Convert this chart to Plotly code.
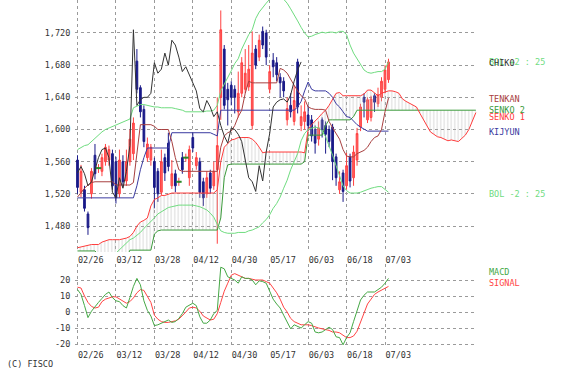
import plotly.graph_objects as go

# ---------------- data ----------------
tick_labels = ["02/26", "03/12", "03/28", "04/12", "04/30", "05/17", "06/03", "06/18", "07/03"]
tick_pos = [0, 11, 22, 33, 44, 55, 66, 77, 88]

open_ = [1562, 1522, 1525, 1495, 1520, 1568, 1552, 1548, 1560, 1562,
         1570, 1560, 1520, 1560, 1536, 1560, 1570, 1685, 1652, 1625,
         1565, 1562, 1560, 1548, 1522, 1565, 1583, 1530, 1545, 1535,
         1565, 1565, 1540, 1590, 1555, 1560, 1535, 1520, 1546, 1530,
         1550, 1640, 1700, 1650, 1655, 1650, 1622, 1645, 1650, 1653,
         1605, 1700, 1690, 1722, 1720, 1650, 1686, 1683, 1665, 1660,
         1612, 1630, 1610, 1684, 1605, 1610, 1618, 1612, 1600, 1588,
         1612, 1605, 1600, 1603, 1566, 1525, 1546, 1530, 1566, 1540,
         1562, 1603, 1640, 1612, 1615, 1642, 1632, 1640, 1650, 1662]
high = [1568, 1556, 1530, 1498, 1552, 1582, 1557, 1570, 1582, 1580,
        1575, 1566, 1575, 1568, 1575, 1600, 1615, 1700, 1655, 1630,
        1590, 1582, 1565, 1552, 1575, 1570, 1596, 1562, 1550, 1540,
        1572, 1570, 1580, 1596, 1572, 1565, 1540, 1548, 1550, 1560,
        1640, 1748, 1705, 1658, 1660, 1655, 1672, 1690, 1700, 1705,
        1722, 1705, 1718, 1728, 1724, 1680, 1695, 1690, 1670, 1665,
        1640, 1645, 1655, 1688, 1630, 1635, 1630, 1618, 1605, 1610,
        1615, 1610, 1605, 1607, 1570, 1548, 1550, 1571, 1570, 1580,
        1602, 1632, 1645, 1640, 1642, 1645, 1652, 1665, 1680, 1688]
low = [1520, 1516, 1498, 1469, 1514, 1538, 1546, 1542, 1555, 1555,
       1525, 1508, 1515, 1528, 1530, 1555, 1562, 1645, 1615, 1578,
       1560, 1555, 1502, 1510, 1518, 1536, 1548, 1526, 1522, 1530,
       1545, 1560, 1530, 1572, 1550, 1515, 1505, 1515, 1520, 1525,
       1458, 1612, 1625, 1605, 1630, 1620, 1615, 1640, 1645, 1648,
       1600, 1675, 1685, 1700, 1680, 1645, 1665, 1660, 1640, 1640,
       1605, 1615, 1605, 1620, 1598, 1600, 1598, 1585, 1570, 1580,
       1590, 1570, 1578, 1537, 1530, 1520, 1510, 1525, 1528, 1530,
       1555, 1598, 1615, 1608, 1610, 1622, 1628, 1635, 1645, 1658]
close = [1528, 1548, 1502, 1478, 1548, 1545, 1552, 1565, 1578, 1575,
         1530, 1515, 1562, 1535, 1560, 1588, 1608, 1650, 1622, 1585,
         1582, 1578, 1528, 1520, 1560, 1546, 1554, 1545, 1530, 1535,
         1550, 1565, 1575, 1577, 1565, 1522, 1515, 1540, 1527, 1548,
         1580, 1724, 1630, 1637, 1640, 1640, 1645, 1683, 1670, 1675,
         1695, 1680, 1711, 1705, 1690, 1672, 1678, 1668, 1658, 1648,
         1626, 1622, 1636, 1628, 1616, 1622, 1605, 1592, 1583, 1602,
         1600, 1594, 1585, 1560, 1540, 1535, 1523, 1555, 1536, 1572,
         1595, 1628, 1634, 1637, 1638, 1634, 1643, 1660, 1674, 1684]

tenkan = [1516, 1522, 1527, 1531, 1534, 1535, 1535, 1535, 1535, 1535,
          1535, 1531, 1531, 1531, 1531, 1531, 1534, 1571, 1606, 1606,
          1606, 1606, 1604, 1600, 1600, 1600, 1600, 1585, 1565, 1550,
          1548, 1548, 1548, 1548, 1548, 1548, 1548, 1548, 1548, 1548,
          1548, 1578, 1592, 1596, 1598, 1605, 1616, 1624, 1645, 1660,
          1658, 1658, 1658, 1658, 1658, 1658, 1658, 1658, 1676, 1674,
          1670, 1662, 1655, 1648, 1642, 1638, 1628, 1626, 1625, 1625,
          1625, 1624, 1610, 1602, 1595, 1588, 1575, 1567, 1566, 1566,
          1570, 1572, 1574, 1578, 1585, 1590, 1592, 1600, 1622, 1639]
kijun = [1515, 1515, 1515, 1515, 1515, 1515, 1515, 1515, 1515, 1515,
         1515, 1515, 1515, 1515, 1515, 1515, 1515, 1530, 1550, 1565,
         1577, 1577, 1577, 1577, 1577, 1577, 1577, 1596, 1596, 1596,
         1596, 1596, 1596, 1596, 1596, 1596, 1596, 1596, 1596, 1594,
         1592, 1624, 1624, 1624, 1624, 1624, 1624, 1624, 1624, 1624,
         1624, 1624, 1624, 1624, 1624, 1624, 1624, 1624, 1624, 1624,
         1624, 1624, 1624, 1628, 1635, 1648, 1659, 1650, 1648, 1648,
         1648, 1648, 1645, 1640, 1632, 1628, 1622, 1616, 1615, 1610,
         1606, 1603, 1600, 1598, 1598, 1598, 1598, 1598, 1598, 1598]
senko1 = [1453, 1454, 1455, 1456, 1457, 1457, 1457, 1460, 1462, 1463,
          1463, 1463, 1463, 1464, 1465, 1467, 1472, 1480, 1485, 1487,
          1490, 1505, 1513, 1515, 1518, 1518, 1520, 1521, 1521, 1521,
          1521, 1521, 1521, 1521, 1521, 1521, 1521, 1521, 1521, 1521,
          1525, 1560, 1578, 1582, 1587, 1588, 1590, 1590, 1590, 1590,
          1588, 1584, 1578, 1571, 1572, 1572, 1572, 1572, 1572, 1572,
          1572, 1572, 1572, 1572, 1572, 1571, 1600, 1606, 1610, 1615,
          1620, 1624, 1630, 1637, 1645, 1646, 1642, 1642, 1642, 1642,
          1642, 1642, 1644, 1649, 1649, 1645, 1642, 1645, 1647, 1648,
          1648, 1647, 1645, 1638, 1635, 1633, 1631, 1628, 1620, 1612,
          1604, 1597, 1594, 1591, 1590, 1588, 1586, 1587, 1586, 1585,
          1589, 1593, 1600, 1610, 1621]
senko2 = [1449, 1449, 1449, 1449, 1449, 1449, 1444, 1440, 1440, 1440,
          1440, 1440, 1440, 1440, 1440, 1450, 1450, 1450, 1450, 1450,
          1450, 1450, 1470, 1474, 1475, 1475, 1475, 1475, 1475, 1475,
          1475, 1475, 1475, 1475, 1475, 1475, 1475, 1475, 1475, 1475,
          1475, 1490, 1540, 1556, 1557, 1557, 1557, 1557, 1557, 1557,
          1557, 1557, 1557, 1557, 1557, 1557, 1557, 1557, 1557, 1557,
          1557, 1557, 1557, 1557, 1557, 1560, 1593, 1593, 1593, 1593,
          1593, 1605, 1612, 1612, 1612, 1612, 1612, 1612, 1612, 1616,
          1624, 1624, 1624, 1624, 1624, 1624, 1624, 1624, 1624, 1624,
          1624, 1624, 1624, 1624, 1624, 1624, 1624, 1624, 1624, 1624,
          1624, 1624, 1624, 1624, 1624, 1624, 1624, 1624, 1624, 1624,
          1624, 1624, 1624, 1624, 1624]
bol_up = [1575, 1578, 1580, 1581, 1585, 1590, 1594, 1597, 1600, 1602,
          1603, 1605, 1607, 1609, 1611, 1613, 1627, 1629, 1631, 1631,
          1630, 1629, 1628, 1628, 1627, 1627, 1627, 1627, 1626, 1625,
          1624, 1622, 1622, 1622, 1622, 1622, 1622, 1623, 1623, 1624,
          1630, 1648, 1656, 1665, 1673, 1682, 1688, 1700, 1710, 1718,
          1724, 1738, 1746, 1752, 1757, 1762, 1765, 1766, 1765, 1762,
          1757, 1750, 1743, 1735, 1727, 1720, 1715, 1716, 1718, 1720,
          1721, 1720, 1721, 1721, 1720, 1722, 1722, 1718, 1705, 1695,
          1688, 1680, 1674, 1671, 1670, 1671, 1672, 1672, 1675, 1684]
bol_lo = [1400, 1402, 1405, 1410, 1415, 1420, 1425, 1430, 1435, 1438,
          1442, 1446, 1450, 1454, 1458, 1463, 1465, 1468, 1472, 1477,
          1481, 1486, 1490, 1495, 1498, 1501, 1503, 1504, 1505, 1506,
          1506, 1506, 1506, 1506, 1505, 1504, 1502, 1500, 1496, 1491,
          1482, 1474, 1472, 1471, 1471, 1471, 1472, 1472, 1472, 1474,
          1475, 1477, 1479, 1484, 1488, 1494, 1502, 1508, 1516, 1527,
          1537, 1550, 1560, 1570, 1586, 1595, 1600, 1602, 1603, 1602,
          1598, 1591, 1580, 1568, 1555, 1541, 1530, 1524, 1521, 1521,
          1521, 1522, 1524, 1525, 1527, 1528, 1529, 1529, 1526, 1522]
macd = [14, 11, 4, -3.5, 0.5, 3.5, 6, 8.5, 11, 12.5,
        9, 7, 6.5, 4, 2.5, 9, 16, 21, 17, 7,
        1, -2.5, -8.5, -8, -7, -6, -5, -6.5, -6, -4,
        -1, 3, 4.5, 5.5, 4, -3, -7, -7, -5, -1,
        1, 28, 27, 22, 21, 20, 18, 22, 21, 21,
        20, 17, 19.5, 19, 18, 13, 8, 5, 2.5, -2,
        -6.5, -10.5, -8, -9, -10, -8, -6, -7, -12.5, -13,
        -12.5, -11, -9.5, -11, -15.5, -16, -20.5, -16, -13, -6,
        1, 7.5, 10.5, 12.5, 12.5, 12.5, 14, 15.5, 18, 21]
signal = [15.5, 15, 10, 6, 3.5, 2.5, 3, 6.5, 8, 9,
          9.5, 9.5, 8, 6.5, 5.5, 6.5, 8.8, 12, 14, 13.5,
          10, 6, -2, -4.5, -6, -6.5, -6.5, -6, -5.5, -4.5,
          -2.5, 0, 2.5, 3, 2.5, 0.5, -2.5, -4, -5, -4.5,
          -1, 6, 13, 18, 23, 24, 23, 22, 21, 21,
          20.5, 20, 20, 20, 19, 18, 15, 12, 8, 3,
          0, -4, -6, -7, -8, -8, -8, -8.5, -9.5, -10,
          -10.5, -11, -11.5, -12.5, -12.5, -13, -14.5, -16, -16, -15,
          -12, -6, -1, 5, 8, 11, 12.5, 13.5, 15, 16]

CHIKO_SHIFT = 25
doji_idx = [6, 29, 31]

# ---------------- geometry (pixels) ----------------
W, H = 569, 376
PL, PR = 75, 477
MAIN_BOT, MACD_TOP, MACD_BOT = 252, 264, 347
PH = MACD_BOT  # plot-area height (top margin 0)
bar_px = (385 - 77.5) / 88
x0 = -(77.5 - PL) / bar_px
x1 = x0 + (PR - PL) / bar_px
y_main = [1447.7, 1761.0]
y_macd = [-21.875, 30.0]

FONT = "DejaVu Sans Mono"
FS = 8.5

bars = list(range(len(close)))
ahead = list(range(len(senko1)))
chiko_x = list(range(len(close) - CHIKO_SHIFT))
chiko = close[CHIKO_SHIFT:]

C_TENKAN = "#a84040"
C_KIJUN = "#3a3aa0"
C_SENKO1 = "#ff3b3b"
C_SENKO2 = "#3a9a3a"
C_CHIKO = "#333333"
C_BOL = "#6fdc7f"
C_MACD = "#45a845"
C_SIG = "#ff4444"

fig = go.Figure()

fig.add_trace(go.Candlestick(
    x=bars, open=open_, high=high, low=low, close=close,
    increasing=dict(line=dict(color="#ff4040", width=1), fillcolor="#ff6060"),
    decreasing=dict(line=dict(color="#1a1a88", width=1), fillcolor="#1a1a88"),
    whiskerwidth=0, hoverinfo="skip", xaxis="x", yaxis="y"))

fig.add_trace(go.Scatter(
    x=doji_idx, y=[close[i] for i in doji_idx], mode="markers",
    marker=dict(symbol="line-ew", size=4, line=dict(width=2, color="#2a8a2a")),
    xaxis="x", yaxis="y"))

# cloud
fig.add_trace(go.Scatter(x=ahead, y=senko2, mode="lines",
                         line=dict(color=C_SENKO2, width=1), xaxis="x", yaxis="y"))
fig.add_trace(go.Scatter(x=ahead, y=senko1, mode="lines",
                         line=dict(color=C_SENKO1, width=1), fill="tonexty",
                         fillcolor="rgba(0,0,0,0)",
                         fillpattern=dict(shape="|", fgcolor="#b8b8b8", bgcolor="rgba(0,0,0,0)",
                                          size=3.5, solidity=0.3),
                         xaxis="x", yaxis="y"))

for ys, col in [(bol_up, C_BOL), (bol_lo, C_BOL), (kijun, C_KIJUN), (tenkan, C_TENKAN)]:
    fig.add_trace(go.Scatter(x=bars, y=ys, mode="lines", line=dict(color=col, width=1),
                             xaxis="x", yaxis="y"))
fig.add_trace(go.Scatter(x=chiko_x, y=chiko, mode="lines", line=dict(color=C_CHIKO, width=1),
                         xaxis="x", yaxis="y"))

# MACD panel
fig.add_trace(go.Scatter(x=bars, y=signal, mode="lines", line=dict(color=C_SIG, width=1),
                         xaxis="x2", yaxis="y2"))
fig.add_trace(go.Scatter(x=bars, y=macd, mode="lines", line=dict(color=C_MACD, width=1),
                         xaxis="x2", yaxis="y2"))

grid = dict(showgrid=True, gridcolor="#9a9a9a", griddash="dot", gridwidth=1,
            zeroline=False, showline=False)
xcommon = dict(range=[x0, x1], tickvals=tick_pos, ticktext=tick_labels,
               ticklabelposition="outside right", ticks="outside", ticklen=2,
               tickcolor="rgba(0,0,0,0)", tickfont=dict(family=FONT, size=FS, color="#333"),
               fixedrange=True, **grid)

fig.update_layout(
    width=W, height=H, paper_bgcolor="white", plot_bgcolor="white",
    margin=dict(l=PL, r=W - PR, t=0, b=H - MACD_BOT),
    showlegend=False, hovermode=False,
    xaxis=dict(anchor="y", rangeslider=dict(visible=False), **xcommon),
    yaxis=dict(domain=[(PH - MAIN_BOT) / PH, 1], range=y_main, fixedrange=True,
               tickvals=[1480, 1520, 1560, 1600, 1640, 1680, 1720], tickformat=",d",
               ticks="outside", ticklen=2, tickcolor="rgba(0,0,0,0)",
               tickfont=dict(family=FONT, size=FS, color="#333"), **grid),
    xaxis2=dict(anchor="y2", **xcommon),
    yaxis2=dict(domain=[0, (PH - MACD_TOP) / PH], range=y_macd, fixedrange=True,
                tickvals=[-20, -10, 0, 10, 20], ticktext=["-20", "-10", "0", "10", "20"],
                ticks="outside", ticklen=2, tickcolor="rgba(0,0,0,0)",
                tickfont=dict(family=FONT, size=FS, color="#333"), **grid),
)

def px_x(px):
    return (px - PL) / (PR - PL)

def px_y(py):
    return (PH - py) / PH

labels = [
    ("BOL +2 : 25", C_BOL, 487, 62),
    ("CHIKO", C_CHIKO, 487, 63),
    ("TENKAN", C_TENKAN, 487, 99),
    ("SENKO 2", C_SENKO2, 487, 110),
    ("SENKO 1", C_SENKO1, 487, 117),
    ("KIJYUN", C_KIJUN, 487, 132),
    ("BOL -2 : 25", C_BOL, 487, 194),
    ("MACD", C_MACD, 487, 272),
    ("SIGNAL", C_SIG, 487, 283),
    ("(C) FISCO", "#333333", 5, 364),
]
for txt, col, px, py in labels:
    fig.add_annotation(text=txt, xref="paper", yref="paper", x=px_x(px), y=px_y(py),
                       xanchor="left", yanchor="middle", showarrow=False,
                       font=dict(family=FONT, size=FS, color=col))

fig.write_html("out.html", config={"displayModeBar": False, "staticPlot": True},
               post_script="document.body.style.margin='0px';document.body.style.overflow='hidden';")
